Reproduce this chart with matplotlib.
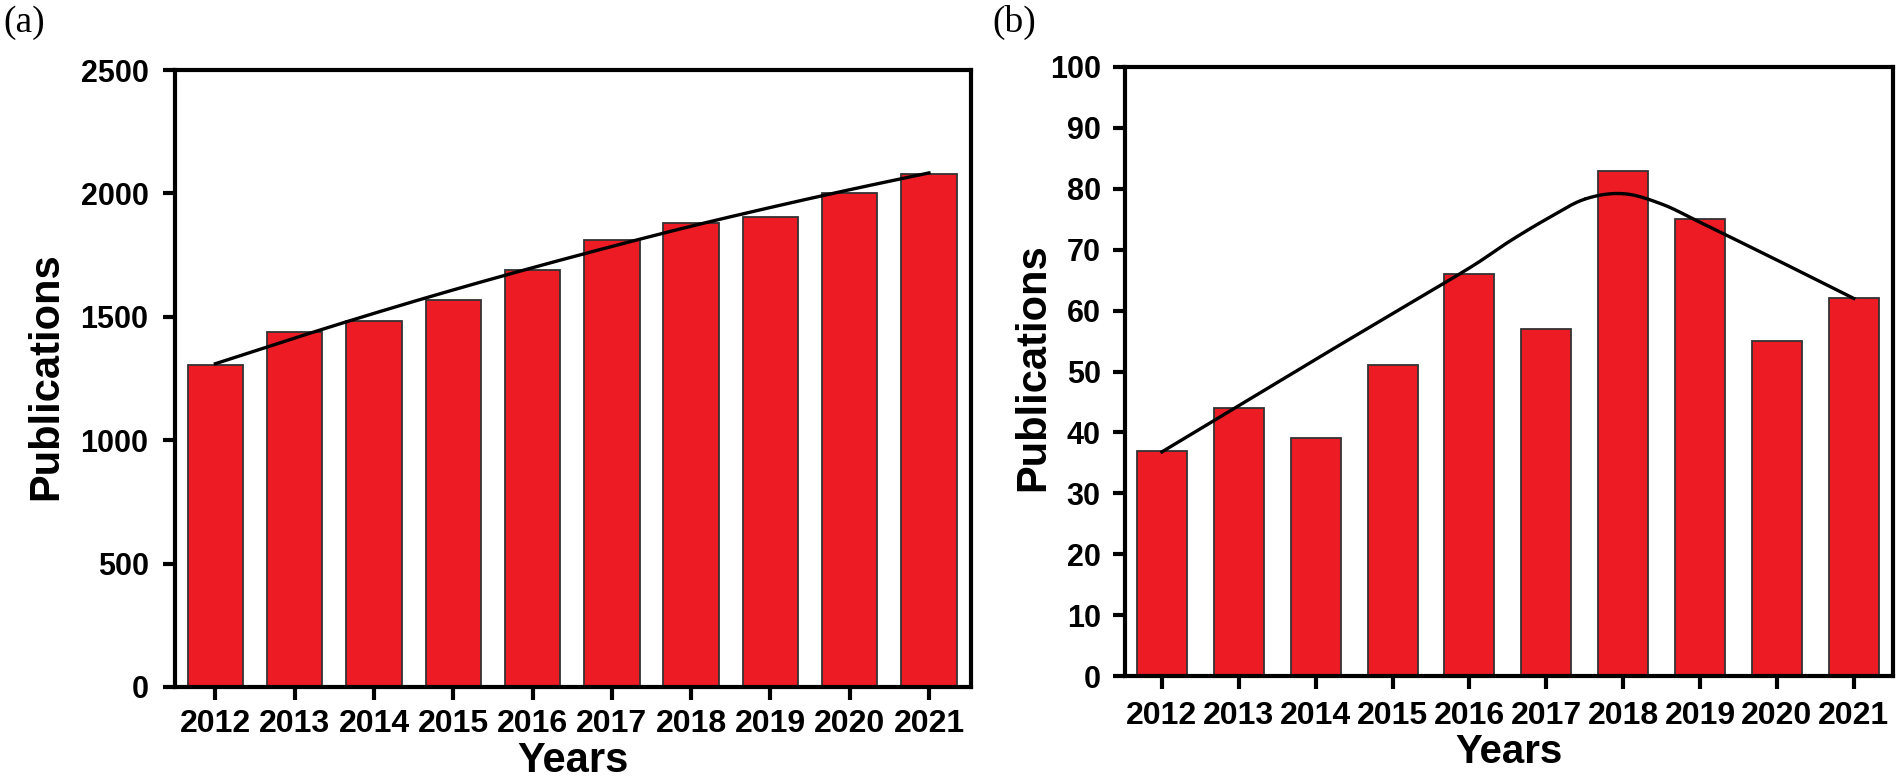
import numpy as np
import matplotlib
matplotlib.use("Agg")
import matplotlib.pyplot as plt

years = [2012, 2013, 2014, 2015, 2016, 2017, 2018, 2019, 2020, 2021]
pubs_a = [1305, 1440, 1485, 1570, 1690, 1810, 1880, 1905, 2000, 2080]
pubs_b = [37, 44, 39, 51, 66, 57, 83, 75, 55, 62]

# trend lines (knots)
trend_a_x = [2012, 2013, 2014, 2015, 2016, 2017, 2018, 2019, 2020, 2021]
trend_a_y = [1310, 1414, 1514, 1609, 1699, 1785, 1867, 1943, 2015, 2083]
trend_b_x = [2012, 2013, 2014, 2015, 2016, 2016.5, 2017, 2017.5, 2018, 2018.5, 2019, 2020, 2021]
trend_b_y = [36.8, 44.4, 52.0, 59.5, 67.0, 71.2, 75.0, 78.3, 79.2, 77.5, 74.5, 68.3, 62.0]

yticks_a = [0, 500, 1000, 1500, 2000, 2500]
yticks_b = list(range(0, 101, 10))

RED = "#ED1C24"
FONT = ["Liberation Sans", "DejaVu Sans"]
plt.rcParams["font.family"] = FONT


def catmull(xs, ys, n=30):
    xs = np.asarray(xs, float)
    ys = np.asarray(ys, float)
    px = np.concatenate([[2 * xs[0] - xs[1]], xs, [2 * xs[-1] - xs[-2]]])
    py = np.concatenate([[2 * ys[0] - ys[1]], ys, [2 * ys[-1] - ys[-2]]])
    ox, oy = [], []
    t = np.linspace(0, 1, n)
    for i in range(1, len(px) - 2):
        for arr, out in ((px, ox), (py, oy)):
            p0, p1, p2, p3 = arr[i - 1], arr[i], arr[i + 1], arr[i + 2]
            out.extend(0.5 * ((2 * p1) + (-p0 + p2) * t +
                              (2 * p0 - 5 * p1 + 4 * p2 - p3) * t ** 2 +
                              (-p0 + 3 * p1 - 3 * p2 + p3) * t ** 3))
    return np.array(ox), np.array(oy)


W, H = 1900, 780
fig = plt.figure(figsize=(W / 100, H / 100), dpi=100)


def px_axes(l, r, t, b):
    return fig.add_axes([l / W, 1 - b / H, (r - l) / W, (b - t) / H])


def style(ax, ypad, xpad):
    for s in ax.spines.values():
        s.set_linewidth(3)
        s.set_color("black")
    ax.tick_params(axis="both", direction="out", length=9, width=3,
                   top=False, right=False)
    ax.tick_params(axis="y", pad=ypad, labelsize=22)
    ax.tick_params(axis="x", pad=xpad, labelsize=23)
    for lab in ax.get_xticklabels() + ax.get_yticklabels():
        lab.set_fontweight("bold")


# Panel (a)
axa = px_axes(175, 971, 70, 687)
axa.bar(years, pubs_a, width=0.7, color=RED, edgecolor="#333333", linewidth=1.3, zorder=2)
lx, ly = catmull(trend_a_x, trend_a_y)
axa.plot(lx, ly, color="black", linewidth=2.4, zorder=3)
axa.set_xlim(2011.49, 2021.53)
axa.set_ylim(0, 2500)
axa.set_xticks(years)
axa.set_xticklabels([str(y) for y in years])
axa.set_yticks(yticks_a)
axa.set_yticklabels([str(v) for v in yticks_a])
style(axa, 10, 7)

# Panel (b)
axb = px_axes(1125, 1893, 67, 676)
axb.bar(years, pubs_b, width=0.65, color=RED, edgecolor="#333333", linewidth=1.3, zorder=2)
lx, ly = catmull(trend_b_x, trend_b_y)
axb.plot(lx, ly, color="black", linewidth=2.4, zorder=3)
axb.set_xlim(2011.52, 2021.51)
axb.set_ylim(0, 100)
axb.set_xticks(years)
axb.set_xticklabels([str(y) for y in years])
axb.set_yticks(yticks_b)
axb.set_yticklabels([str(v) for v in yticks_b])
style(axb, 8.5, 9)

# axis titles
fig.text(46 / W, 1 - 376 / H, "Publications", rotation=90, ha="center", va="center",
         fontsize=30, fontweight="bold")
fig.text(573 / W, 1 - 761 / H, "Years", ha="center", va="center",
         fontsize=30, fontweight="bold")
fig.text(1033 / W, 1 - 367 / H, "Publications", rotation=90, ha="center", va="center",
         fontsize=30, fontweight="bold")
fig.text(1509 / W, 1 - 733 / H, "Years", ha="center", va="top",
         fontsize=29, fontweight="bold")

# panel letters
fig.text(3 / W, 1 - 5 / H, "(a)", ha="left", va="top", fontsize=27,
         family=["Liberation Serif", "DejaVu Serif"])
fig.text(992 / W, 1 - 5 / H, "(b)", ha="left", va="top", fontsize=27,
         family=["Liberation Serif", "DejaVu Serif"])

fig.savefig("out.png", dpi=100)
